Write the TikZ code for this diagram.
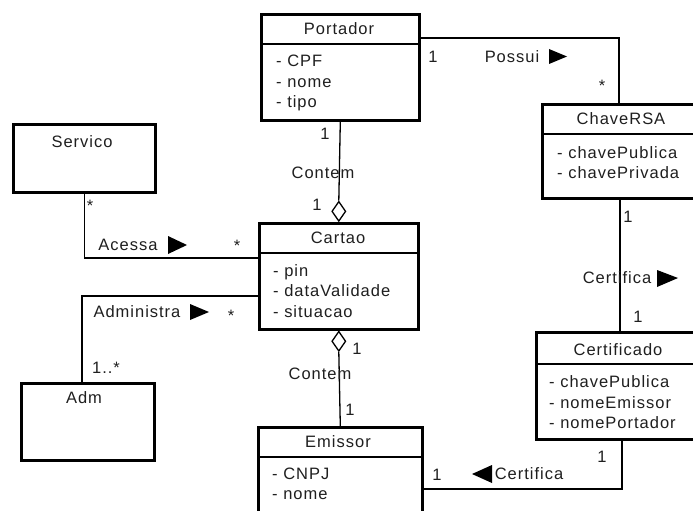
\documentclass[tikz,border=0pt]{standalone}
\usepackage{fontspec}
\setmainfont{Liberation Sans}[LetterSpace=6]
\usetikzlibrary{shapes.geometric}
\begin{document}
\begin{tikzpicture}[x=1pt,y=-1pt,
  cls/.style={draw=black,line width=2.6pt,anchor=north west,inner sep=0pt},
  divider/.style={draw=black,line width=1.2pt},
  conn/.style={draw=black,line width=1.3pt},
  lbl/.style={font=\fontsize{16.5}{20.5}\selectfont,text=black!88,inner sep=0pt},
  attr/.style={lbl,anchor=west,align=left},
  agg/.style={draw=black,line width=1.3pt,fill=white,shape=diamond,inner sep=0pt,minimum width=14pt,minimum height=20pt},
  tri/.style={fill=black}]
\clip (0,0) rectangle (693,511);
\fill[white] (0,0) rectangle (693,511);

% class boxes
\node[cls,minimum width=158pt,minimum height=106pt] (portador) at (260,13) {};
\node[cls,minimum width=170pt,minimum height=94pt] (chave) at (541,103) {};
\node[cls,minimum width=142pt,minimum height=68pt] (servico) at (12,123) {};
\node[cls,minimum width=159pt,minimum height=106pt] (cartao) at (258,222) {};
\node[cls,minimum width=133pt,minimum height=77pt] (adm) at (20,382) {};
\node[cls,minimum width=164pt,minimum height=110pt] (emissor) at (257,426) {};
\node[cls,minimum width=170pt,minimum height=107pt] (certificado) at (535,331) {};

% header dividers
\draw[divider] ([yshift=-31pt]portador.north west) -- ([yshift=-31pt]portador.north east);
\draw[divider] ([yshift=-31pt]chave.north west) -- ([yshift=-31pt]chave.north east);
\draw[divider] ([yshift=-31pt]cartao.north west) -- ([yshift=-31pt]cartao.north east);
\draw[divider] ([yshift=-31pt]emissor.north west) -- ([yshift=-31pt]emissor.north east);
\draw[divider] ([yshift=-33pt]certificado.north west) -- ([yshift=-33pt]certificado.north east);

% class texts
\node[lbl] (portadorT) at (339,29) {Portador};
\node[attr] (portadorA) at (276,83) {- CPF\\- nome\\- tipo};
\node[lbl] (chaveT) at (621,119) {ChaveRSA};
\node[attr] (chaveA) at (557,162.5) {- chavePublica\\- chavePrivada};
\node[lbl] (servicoT) at (82,142) {Servico};
\node[lbl] (cartaoT) at (338,238) {Cartao};
\node[attr] (cartaoA) at (273,291) {- pin\\- dataValidade\\- situacao};
\node[lbl] (admT) at (84,398) {Adm};
\node[lbl] (emissorT) at (338,442) {Emissor};
\node[attr] (emissorA) at (272,484) {- CNPJ\\- nome};
\node[lbl] (certificadoT) at (618,350) {Certificado};
\node[attr] (certificadoA) at (549,402.5) {- chavePublica\\- nomeEmissor\\- nomePortador};

% aggregation diamonds
\node[agg,anchor=south] (dia1) at (cartao.north) {};
\node[agg,anchor=north] (dia2) at (cartao.south) {};

% connectors
\draw[conn] ([yshift=-25pt]portador.north east) -| ([xshift=78pt]chave.north west);
\draw[conn] (portador.south) -- (dia1.north);
\draw[conn] (servico.south) |- ([yshift=-36pt]cartao.north west);
\draw[conn] ([xshift=62pt]adm.north west) |- ([yshift=-74pt]cartao.north west);
\draw[conn] (dia2.south) -- (emissor.north);
\draw[conn] ([xshift=79pt]chave.south west) -- ([xshift=85pt]certificado.north west);
\draw[conn] ([xshift=87pt]certificado.south west) |- ([yshift=-63pt]emissor.north east);

% association labels
\node[lbl] (m1) at (433,57) {1};
\node[lbl] (possui) at (512,57) {Possui};
\fill[tri] (549,49) -- (567,56.5) -- (549,64) -- cycle;
\node[lbl] (m2) at (602,86) {*};

\node[lbl] (m3) at (325,134) {1};
\node[lbl] (contem1) at (323,173) {Contem};
\node[lbl] (m4) at (317,205) {1};

\node[lbl] (m5) at (90,206) {*};
\node[lbl] (acessa) at (128,245) {Acessa};
\fill[tri] (168,236) -- (187,245) -- (168,254) -- cycle;
\node[lbl] (m6) at (237,246) {*};

\node[lbl] (administra) at (137,312) {Administra};
\fill[tri] (190,304) -- (209,312) -- (190,320) -- cycle;
\node[lbl] (m7) at (231,316) {*};
\node[lbl] (m8) at (106,368) {1..*};

\node[lbl] (m9) at (357,349) {1};
\node[lbl] (contem2) at (320,374) {Contem};
\node[lbl] (m10) at (350,410) {1};

\node[lbl] (m11) at (628,217) {1};
\node[lbl] (certifica1) at (617,278) {Certifica};
\fill[tri] (657,270) -- (678,278) -- (657,287) -- cycle;
\node[lbl] (m12) at (638,317) {1};

\node[lbl] (m13) at (602,457) {1};
\node[lbl] (certifica2) at (529,474) {Certifica};
\fill[tri] (492,465) -- (472,474) -- (492,483) -- cycle;
\node[lbl] (m14) at (437,475) {1};
\end{tikzpicture}
\end{document}
